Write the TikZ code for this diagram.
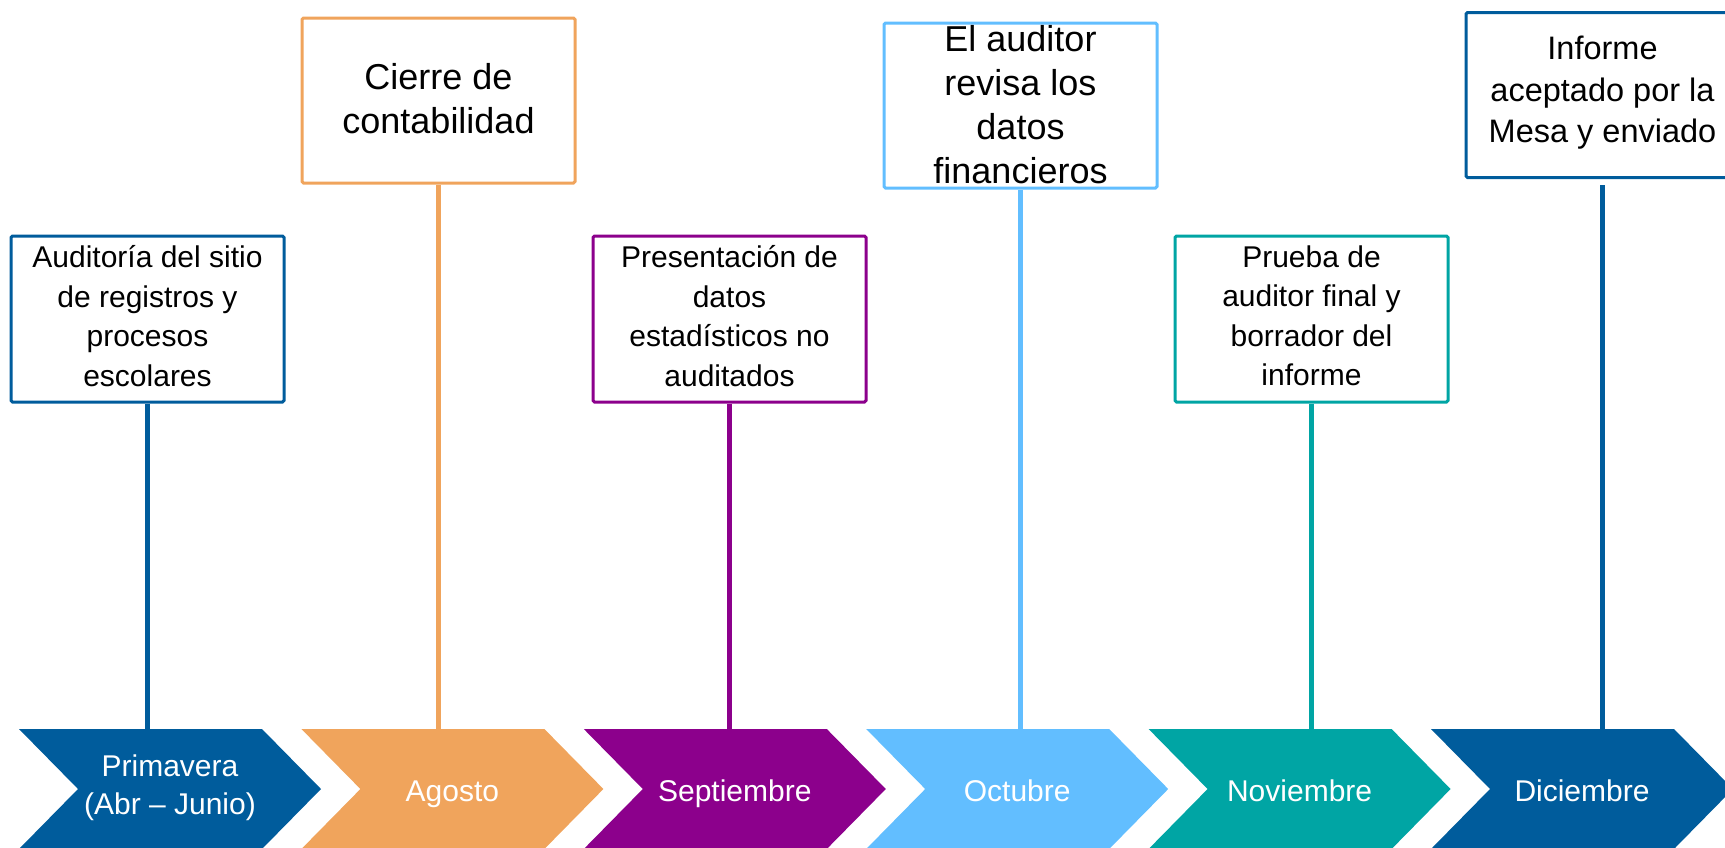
\documentclass[tikz,border=0pt]{standalone}
\usepackage{fontspec}
\setmainfont{Liberation Sans}
\definecolor{dblue}{RGB}{0,92,156}
\definecolor{corange}{RGB}{240,164,92}
\definecolor{cpurple}{RGB}{140,0,140}
\definecolor{lblue}{RGB}{98,190,255}
\definecolor{cteal}{RGB}{0,165,164}
\begin{document}
\begin{tikzpicture}[x=1pt,y=-1pt,
  boxstyle/.style={draw, line width=3pt, rounded corners=1.5pt, fill=white,
    minimum width=273pt, inner sep=0pt},
  lowbox/.style={boxstyle, minimum height=166pt},
  highbox/.style={boxstyle, minimum height=165pt},
  smalltxt/.style={align=center, inner sep=0pt, font=\fontsize{30}{39.5}\selectfont},
  bigtxt/.style={align=center, inner sep=0pt, font=\fontsize{36}{44}\selectfont},
  midtxt/.style={align=center, inner sep=0pt, font=\fontsize{32.5}{41.5}\selectfont},
  chevtxt/.style={align=center, inner sep=0pt, text=white, font=\fontsize{30}{38}\selectfont},
  chevone/.style={chevtxt, text height=22pt, text depth=6pt},
  conn/.style={line width=5pt},
]
\useasboundingbox (0,0) rectangle (1725,847);
\clip (0,0) rectangle (1725,847);

% chevrons
\foreach \L/\c in {19/dblue, 301.4/corange, 583.8/cpurple, 866.2/lblue, 1148.6/cteal, 1431/dblue}{
  \fill[\c] (\L,729) -- (\L+243,729) -- (\L+302,789) -- (\L+243,849) -- (\L,849) -- (\L+59,789) -- cycle;
}
\node[chevtxt] (m1) at (170,788) {Primavera\\(Abr – Junio)};
\node[chevone] (m2) at (452.4,793) {Agosto};
\node[chevone] (m3) at (734.8,793) {Septiembre};
\node[chevone] (m4) at (1017.2,793) {Octubre};
\node[chevone] (m5) at (1299.6,793) {Noviembre};
\node[chevone] (m6) at (1582,793) {Diciembre};

% boxes
\node[lowbox, draw=dblue] (b1) at (147.5,319) {};
\node[highbox, draw=corange] (b2) at (438.5,100.5) {};
\node[lowbox, draw=cpurple] (b3) at (729.5,319) {};
\node[highbox, draw=lblue] (b4) at (1020.5,105.5) {};
\node[lowbox, draw=cteal] (b5) at (1311.5,319) {};
\node[highbox, draw=dblue] (b6) at (1602.5,95) {};

% connector ends on chevron tops
\coordinate (t1) at (147.5,729);
\coordinate (t2) at (438.5,729);
\coordinate (t3) at (729.5,729);
\coordinate (t4) at (1020.5,729);
\coordinate (t5) at (1311.5,729);
\coordinate (t6) at (1602.5,729);

\draw[conn, dblue] (b1.south) -- (t1);
\draw[conn, corange] (b2.south) -- (t2);
\draw[conn, cpurple] (b3.south) -- (t3);
\draw[conn, lblue] (b4.south) -- (t4);
\draw[conn, cteal] (b5.south) -- (t5);
\draw[conn, dblue, shorten <=6pt] (b6.south) -- (t6);

% box texts
\node[smalltxt] (x1) at ([yshift=3pt]b1.center) {Auditoría del sitio\\de registros y\\procesos\\escolares};
\node[bigtxt] (x2) at ([yshift=2pt]b2.center) {Cierre de\\contabilidad};
\node[smalltxt] (x3) at ([yshift=3pt]b3.center) {Presentación de\\datos\\estadísticos no\\auditados};
\node[bigtxt] (x4) at ([yshift=1pt]b4.center) {El auditor\\revisa los\\datos\\financieros};
\node[smalltxt] (x5) at ([yshift=3pt]b5.center) {Prueba de\\auditor final y\\borrador del\\informe};
\node[midtxt] (x6) at ([yshift=2pt]b6.center) {Informe\\aceptado por la\\Mesa y enviado};
\end{tikzpicture}
\end{document}
